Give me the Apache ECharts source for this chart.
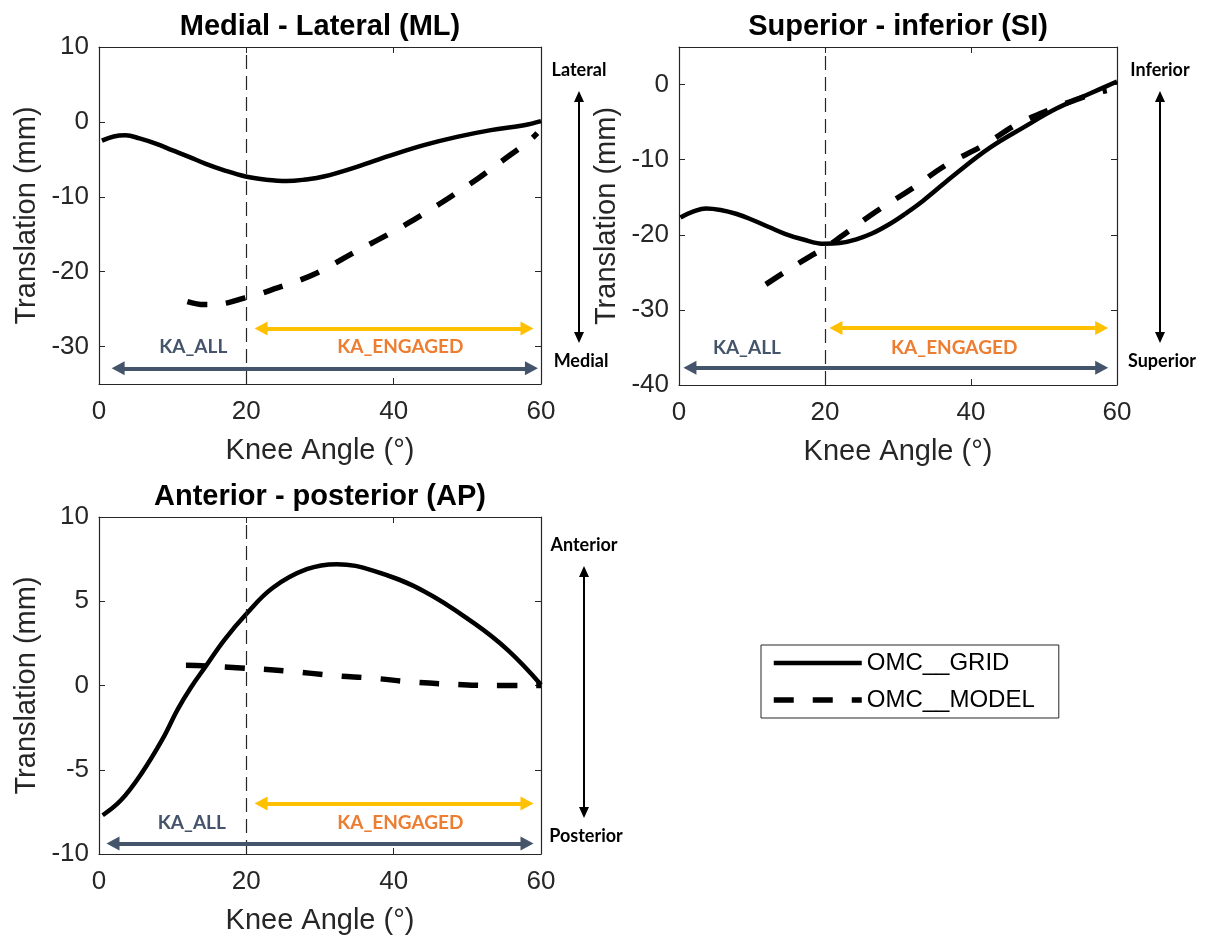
<!DOCTYPE html>
<html>
<head>
<meta charset="utf-8">
<script src="https://cdn.jsdelivr.net/npm/echarts@6/dist/echarts.min.js"></script>
<style>
  html, body { margin: 0; padding: 0; background: #fff; }
  #main { width: 1209px; height: 938px; }
</style>
</head>
<body>
<div id="main"></div>
<script>
// knee angle (deg) / translation (mm)
const mlGridX = [0.4, 2, 3.6, 5.5, 7.7, 10, 12.3, 14.5, 16.8, 19.9, 22.5, 25.5, 28, 30.5, 35, 39.5, 44.1, 48.6, 53.2, 57.7, 60];
const mlGridY = [-2.5, -1.95, -1.8, -2.2, -2.9, -3.8, -4.7, -5.6, -6.4, -7.3, -7.7, -7.9, -7.7, -7.3, -6.0, -4.5, -3.1, -2.0, -1.1, -0.45, 0.1];
const mlModelX = [12, 14.3, 16, 17.7, 19.8, 22, 24.1, 26.8, 29.5, 32, 34.5, 37, 39.5, 42, 44.5, 46.8, 49.1, 51.4, 53.6, 56, 58.2, 59.5];
const mlModelY = [-24.0, -24.4, -24.35, -24.1, -23.5, -22.9, -22.2, -21.3, -20.2, -18.9, -17.5, -16.2, -14.9, -13.5, -12.0, -10.6, -9.1, -7.6, -6.0, -4.3, -2.7, -1.5];

const siGridX = [0.2, 2, 3.7, 5.7, 7.8, 10, 12.4, 14.6, 16.9, 19.9, 22, 24.3, 26.5, 28.8, 31, 33.4, 38, 42.6, 47.2, 51.7, 56.3, 60];
const siGridY = [-17.7, -16.9, -16.5, -16.7, -17.2, -18.0, -19.0, -19.9, -20.6, -21.2, -21.1, -20.6, -19.8, -18.6, -17.2, -15.5, -11.8, -8.4, -5.7, -3.2, -1.2, 0.4];
const siModelX = [11.9, 14.9, 17.9, 19.9, 22.4, 27, 32, 36.6, 41.7, 46.5, 51.7, 55, 57.7, 58.6];
const siModelY = [-26.6, -24.7, -22.9, -21.8, -20.1, -16.9, -13.8, -10.7, -8.1, -5.2, -3.0, -1.8, -1.0, -0.8];

const apGridX = [0.5, 3, 5.8, 8.6, 10.7, 12.5, 14.5, 17, 19.9, 23.6, 28.2, 32.3, 37.3, 44.1, 50.9, 55.5, 60];
const apGridY = [-7.7, -6.8, -5.2, -3.2, -1.4, -0.1, 1.15, 2.7, 4.2, 5.8, 6.9, 7.2, 6.8, 5.6, 3.7, 2.1, 0.05];
const apModelX = [11.8, 13.2, 19.8, 25.9, 31.8, 37.3, 42.7, 48.6, 53.2, 60];
const apModelY = [1.2, 1.19, 1.03, 0.85, 0.59, 0.43, 0.2, 0.06, 0.0, 0.0];

const seriesNames = ["OMC__GRID", "OMC__MODEL"];
const titles = ["Medial - Lateral (ML)", "Superior - inferior (SI)", "Anterior - posterior (AP)"];
const yRanges = [[-35, 10], [-40, 5], [-10, 10]];
const engageAngle = 20;

// KA range arrows: [start, end, height] in data units, and label spots
const kaAllArrows = [[2.6, 58.7, -32.9], [1.5, 57.9, -37.7], [1.9, 58.1, -9.37]];
const kaEngagedArrows = [[22, 58.1, -27.6], [21.5, 57.9, -32.4], [22, 58.1, -7.0]];
const kaAllText = [[12.8, -30.1], [9.3, -35.0], [12.6, -8.13]];
const kaEngagedText = [[40.9, -30.1], [37.7, -35.0], [40.9, -8.13]];
const dirLabels = [["Lateral", "Medial"], ["Inferior", "Superior"], ["Anterior", "Posterior"]];

const INK = "#262626";
const FONT = "'Liberation Sans', Arial, sans-serif";
const NOTE_FONT = "Lato, 'Open Sans', sans-serif";
const KA_BLUE = "#44546A";
const KA_YELLOW = "#FFC000";
const KA_ORANGE = "#ED7D31";
const GRID_LINE = { color: "#000", width: 4.5, type: "solid" };
const MODEL_LINE = { color: "#000", width: 5.5, type: [20, 19] };

const grids = [
  { left: 99, top: 47, width: 442, height: 337 },
  { left: 679, top: 47, width: 438, height: 338 },
  { left: 99, top: 517, width: 442, height: 337 },
];

const pairs = (xs, ys) => xs.map((x, k) => [x, ys[k]]);
const curves = [
  [pairs(mlGridX, mlGridY), pairs(mlModelX, mlModelY)],
  [pairs(siGridX, siGridY), pairs(siModelX, siModelY)],
  [pairs(apGridX, apGridY), pairs(apModelX, apModelY)],
];

const chart = echarts.init(document.getElementById("main"), null, { renderer: "canvas" });

const xAxes = [];
const yAxes = [];
const series = [];
const titleList = [];

grids.forEach((g, i) => {
  titleList.push({
    text: titles[i],
    left: g.left + g.width / 2,
    top: g.top - 35,
    padding: 0,
    textAlign: "center",
    textStyle: { fontFamily: FONT, fontSize: 29, fontWeight: "bold", color: "#000" },
  });

  const tick = { show: true, inside: true, length: 6, lineStyle: { color: INK, width: 1 } };
  const line = { show: true, onZero: false, lineStyle: { color: INK, width: 1.2 } };

  xAxes.push({
    gridIndex: i,
    type: "value",
    position: "bottom",
    min: 0,
    max: 60,
    interval: 20,
    name: "Knee Angle (°)",
    nameLocation: "middle",
    nameGap: 52,
    nameTextStyle: { fontFamily: FONT, fontSize: 29, color: INK },
    axisLine: line,
    axisTick: tick,
    axisLabel: { fontFamily: FONT, fontSize: 26, color: INK, margin: 15 },
    splitLine: { show: false },
  });
  xAxes.push({
    gridIndex: i,
    type: "value",
    position: "top",
    min: 0,
    max: 60,
    interval: 20,
    axisLine: line,
    axisTick: tick,
    axisLabel: { show: false },
    splitLine: { show: false },
  });

  const yr = yRanges[i];
  const yBase = {
    gridIndex: i,
    type: "value",
    min: yr[0],
    max: yr[1],
    splitNumber: 5,
    axisLine: line,
    axisTick: tick,
    splitLine: { show: false },
  };
  if (i === 2) yBase.interval = 5;
  yAxes.push(Object.assign({}, yBase, {
    position: "left",
    name: "Translation (mm)",
    nameLocation: "middle",
    nameGap: 58,
    nameTextStyle: { fontFamily: FONT, fontSize: 29, color: INK },
    axisLabel: {
      fontFamily: FONT,
      fontSize: 26,
      color: INK,
      margin: 10,
      showMinLabel: i !== 0,
      showMaxLabel: i !== 1,
    },
  }));
  yAxes.push(Object.assign({}, yBase, { position: "right", axisLabel: { show: false } }));

  const all = kaAllArrows[i];
  const eng = kaEngagedArrows[i];

  series.push({
    name: seriesNames[0],
    type: "line",
    xAxisIndex: 2 * i,
    yAxisIndex: 2 * i,
    data: curves[i][0],
    smooth: 0.4,
    showSymbol: false,
    symbol: "none",
    lineStyle: GRID_LINE,
    itemStyle: { color: "#000" },
    z: 3,
    markLine: {
      silent: true,
      symbol: ["none", "none"],
      label: { show: false },
      lineStyle: { color: INK, width: 1.2, type: [14, 7] },
      data: [{ xAxis: engageAngle }],
    },
  });

  series.push({
    name: seriesNames[1],
    type: "line",
    xAxisIndex: 2 * i,
    yAxisIndex: 2 * i,
    data: curves[i][1],
    smooth: 0.4,
    showSymbol: false,
    symbol: "none",
    lineStyle: MODEL_LINE,
    itemStyle: { color: "#000" },
    z: 3,
    markLine: {
      silent: true,
      symbol: ["triangle", "triangle"],
      symbolSize: [14, 13],
      label: { show: false },
      data: [
        [
          { coord: [all[0], all[2]], lineStyle: { color: KA_BLUE, width: 4, type: "solid" }, itemStyle: { color: KA_BLUE } },
          { coord: [all[1], all[2]] },
        ],
        [
          { coord: [eng[0], eng[2]], lineStyle: { color: KA_YELLOW, width: 4, type: "solid" }, itemStyle: { color: KA_YELLOW } },
          { coord: [eng[1], eng[2]] },
        ],
      ],
    },
    markPoint: {
      silent: true,
      symbol: "circle",
      symbolSize: 1,
      itemStyle: { color: "rgba(0,0,0,0)" },
      label: {
        show: true,
        position: "inside",
        formatter: "{b}",
        fontFamily: NOTE_FONT,
        fontWeight: "bold",
        fontSize: 19,
      },
      data: [
        { name: "KA_ALL", coord: kaAllText[i], label: { color: KA_BLUE } },
        { name: "KA_ENGAGED", coord: kaEngagedText[i], label: { color: KA_ORANGE } },
      ],
    },
  });
});

// direction arrows to the right of each panel
const dirArrowX = [579, 1160, 584];
const dirShift = [0, 0, 5];
const graphics = [];
grids.forEach((g, i) => {
  const x = dirArrowX[i];
  const top = g.top + dirShift[i];
  const yTop = top + 44;
  const yBot = top + 296;
  graphics.push(
    { type: "line", shape: { x1: x, y1: yTop + 8, x2: x, y2: yBot - 8 }, style: { stroke: "#000", lineWidth: 2 } },
    { type: "polygon", shape: { points: [[x, yTop], [x - 5, yTop + 11], [x + 5, yTop + 11]] }, style: { fill: "#000" } },
    { type: "polygon", shape: { points: [[x, yBot], [x - 5, yBot - 11], [x + 5, yBot - 11]] }, style: { fill: "#000" } },
    {
      type: "text",
      x: x,
      y: top + 23,
      style: { text: dirLabels[i][0], fill: "#000", font: "bold 18px " + NOTE_FONT, align: "center", verticalAlign: "middle" },
    },
    {
      type: "text",
      x: x + 2,
      y: top + 314,
      style: { text: dirLabels[i][1], fill: "#000", font: "bold 18px " + NOTE_FONT, align: "center", verticalAlign: "middle" },
    }
  );
});

const option = {
  animation: false,
  backgroundColor: "#fff",
  title: titleList,
  grid: grids.map((g) => Object.assign({ containLabel: false }, g)),
  legend: {
    data: [
      { name: seriesNames[0], lineStyle: GRID_LINE, itemStyle: { opacity: 0 } },
      { name: seriesNames[1], lineStyle: MODEL_LINE, itemStyle: { opacity: 0 } },
    ],
    orient: "vertical",
    left: 761,
    top: 645,
    padding: [6, 24, 6, 10],
    itemWidth: 88,
    itemHeight: 24,
    itemGap: 13,
    borderColor: INK,
    borderWidth: 1,
    textStyle: { fontFamily: FONT, fontSize: 24, color: "#000" },
    selectedMode: false,
  },
  xAxis: xAxes,
  yAxis: yAxes,
  series: series,
  graphic: graphics,
};

chart.setOption(option, true);
</script>
</body>
</html>
